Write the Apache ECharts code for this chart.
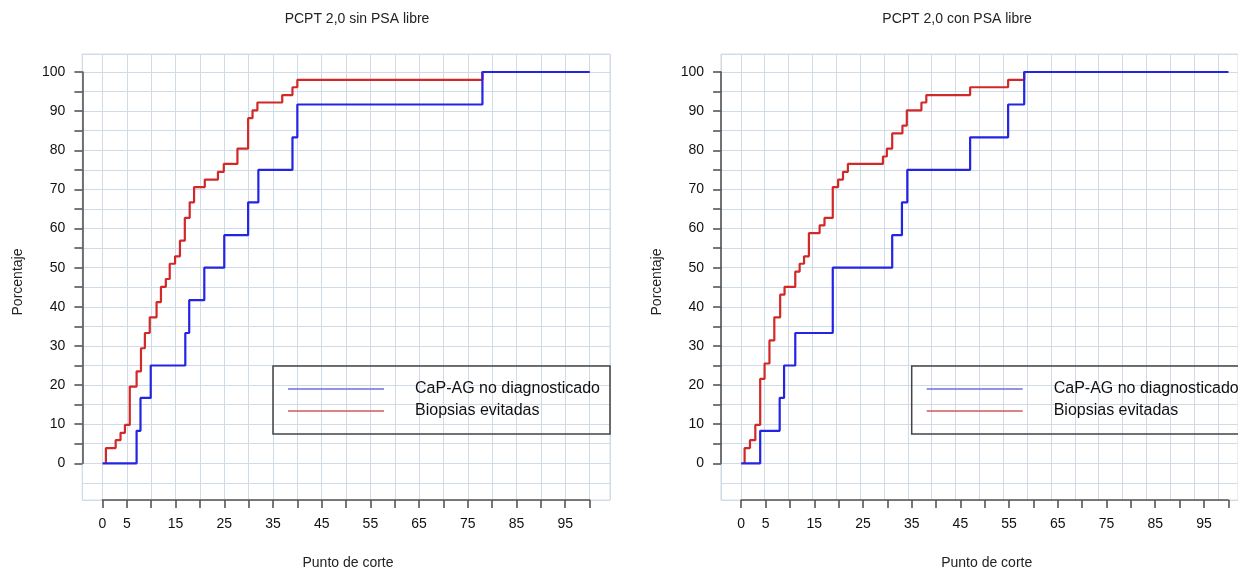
<!DOCTYPE html>
<html><head><meta charset="utf-8">
<script src="https://cdn.jsdelivr.net/npm/echarts@6/dist/echarts.min.js"></script>
<style>html,body{margin:0;padding:0;background:#fff}#c{width:1238px;height:570px}</style>
</head><body><div id="c"></div>
<script>
// ---------- data ----------
const chartTitles = ['PCPT 2,0 sin PSA libre', 'PCPT 2,0 con PSA libre'];
const seriesNames = ['CaP-AG no diagnosticado', 'Biopsias evitadas'];
const xAxisTitle = 'Punto de corte';
const yAxisTitle = 'Porcentaje';
const xTickLabels = [0, 5, 15, 25, 35, 45, 55, 65, 75, 85, 95];
const yTickLabels = [0, 10, 20, 30, 40, 50, 60, 70, 80, 90, 100];

// left: sin PSA libre  [punto de corte, porcentaje]
const leftMissed = [[0,0],[7.0,8.3],[7.8,16.7],[9.9,25],[17.0,33.3],[17.8,41.7],[20.9,50],[25.0,58.3],[29.9,66.7],[32.0,75],[39.0,83.3],[40.0,91.7],[78.0,100],[100,100]];
const leftAvoided = [[0.7,0],[0.7,3.9],[2.7,5.9],[3.7,7.8],[4.6,9.8],[5.6,19.6],[7.0,23.5],[7.9,29.4],[8.7,33.3],[9.7,37.3],[11.1,41.2],[12.0,45.1],[13.0,47.1],[13.8,51.0],[14.9,52.9],[15.9,56.9],[16.9,62.7],[17.9,66.7],[18.8,70.6],[21.0,72.5],[23.7,74.5],[24.9,76.5],[27.7,80.4],[29.9,88.2],[30.8,90.2],[31.8,92.2],[36.9,94.1],[39.0,96.1],[40.0,98.0],[78.0,100],[100,100]];
// right: con PSA libre
const rightMissed = [[0,0],[3.9,8.3],[7.9,16.7],[8.8,25],[11.1,33.3],[18.8,50],[31.0,58.3],[33.0,66.7],[34.1,75],[47.0,83.3],[54.8,91.7],[58.1,100],[100,100]];
const rightAvoided = [[0.7,0],[0.7,3.9],[1.8,5.9],[2.9,9.8],[3.9,21.6],[4.8,25.5],[5.8,31.4],[6.8,37.3],[8.0,43.1],[8.9,45.1],[11.1,49.0],[12.0,51.0],[12.9,52.9],[13.9,58.8],[16.1,60.8],[17.1,62.7],[18.8,70.6],[19.9,72.5],[20.9,74.5],[21.9,76.5],[29.1,78.4],[29.9,80.4],[31.0,84.3],[33.1,86.3],[34.0,90.2],[37.0,92.2],[38.0,94.1],[47.0,96.1],[54.8,98.0],[58.1,100],[100,100]];

// ---------- layout ----------
const FONT = '"Liberation Sans", Arial, sans-serif';
const SX = 4.871, SY = 3.913;      // px per unit
const X0L = 102.5, Y0 = 463.3;     // pixel of (0,0) in left chart
const DX = 638.7;                  // shift of right chart
const BG = {l: -20.3, r: 507.5, t: 54, b: 500}; // background box relative to X0 (l,r) / absolute (t,b)
const AX = '#555', GRIDC = '#cfdbe6';
const C_BLUE = '#2424e4', C_RED = '#d22828';
const L_BLUE = '#6f6fdc', L_RED = '#d25a60';

const grids = [], xAxes = [], yAxes = [], series = [], legends = [], graphics = [];
const datasets = [[leftMissed, leftAvoided], [rightMissed, rightAvoided]];

datasets.forEach((d, i) => {
  const X0 = X0L + i * DX;
  const bl = X0 + BG.l, br = X0 + BG.r;
  // background grid
  grids.push({left: bl, top: BG.t, width: br - bl, height: BG.b - BG.t, show: true, borderColor: '#d6dee6', borderWidth: 1, backgroundColor: 'transparent'});
  xAxes.push({gridIndex: 2*i, type: 'value', min: BG.l / SX, max: BG.r / SX, minInterval: 5, maxInterval: 5, splitNumber: 20,
    axisLine: {show: false}, axisTick: {show: false}, axisLabel: {show: false}, splitLine: {show: true, lineStyle: {color: GRIDC, width: 1}}});
  yAxes.push({gridIndex: 2*i, type: 'value', min: -(BG.b - Y0) / SY, max: (Y0 - BG.t) / SY, minInterval: 5, maxInterval: 5, splitNumber: 22,
    axisLine: {show: false}, axisTick: {show: false}, axisLabel: {show: false}, splitLine: {show: true, lineStyle: {color: GRIDC, width: 1}}});
  // data grid
  grids.push({left: X0, top: Y0 - 100 * SY, width: 100 * SX, height: 100 * SY});
  xAxes.push({gridIndex: 2*i+1, type: 'value', min: 0, max: 100, interval: 5, position: 'bottom', offset: BG.b - Y0,
    axisLine: {show: true, onZero: false, lineStyle: {color: AX, width: 1.6}},
    axisTick: {show: true, length: 8, lineStyle: {color: AX, width: 1.6}},
    axisLabel: {margin: 17, fontSize: 14, fontFamily: FONT, color: '#111', formatter: v => xTickLabels.includes(v) ? String(v) : ''},
    splitLine: {show: false}});
  yAxes.push({gridIndex: 2*i+1, type: 'value', min: 0, max: 100, interval: 5, position: 'left', offset: -BG.l - 0.2,
    axisLine: {show: true, onZero: false, lineStyle: {color: AX, width: 1.6}},
    axisTick: {show: true, length: 8, lineStyle: {color: AX, width: 1.6}},
    axisLabel: {margin: 17, fontSize: 14, fontFamily: FONT, color: '#111', formatter: v => yTickLabels.includes(v) ? String(v) : ''},
    splitLine: {show: false}});
  series.push({name: seriesNames[1], type: 'line', step: 'end', xAxisIndex: 2*i+1, yAxisIndex: 2*i+1, data: d[1], symbol: 'none', clip: false,
    lineStyle: {color: C_RED, width: 2.2}, itemStyle: {color: C_RED}, z: 2});
  series.push({name: seriesNames[0], type: 'line', step: 'end', xAxisIndex: 2*i+1, yAxisIndex: 2*i+1, data: d[0], symbol: 'none', clip: false,
    lineStyle: {color: C_BLUE, width: 2.2}, itemStyle: {color: C_BLUE}, z: 3});
  legends.push({left: 273 + i * DX, top: 366, orient: 'vertical', padding: [12, 10, 12, 15], itemGap: 0, itemWidth: 96, itemHeight: 1.5, icon: 'rect',
    borderColor: '#444', borderWidth: 1.5, backgroundColor: 'transparent', selectedMode: false,
    textStyle: {fontSize: 16, fontFamily: FONT, color: '#111', padding: [0, 0, 0, 26], lineHeight: 22},
    data: [{name: seriesNames[0], itemStyle: {color: L_BLUE}}, {name: seriesNames[1], itemStyle: {color: L_RED}}]});
  graphics.push({type: 'text', x: 357 + i * 600, y: 19, style: {text: chartTitles[i], font: '14px ' + FONT, fill: '#222', align: 'center', verticalAlign: 'middle'}});
  graphics.push({type: 'text', x: X0 + 245.5, y: 563, style: {text: xAxisTitle, font: '14px ' + FONT, fill: '#222', align: 'center', verticalAlign: 'middle'}});
  graphics.push({type: 'text', x: X0 - 84.5, y: 282, rotation: Math.PI / 2, style: {text: yAxisTitle, font: '14px ' + FONT, fill: '#222', align: 'center', verticalAlign: 'middle'}});
});

const chart = echarts.init(document.getElementById('c'), null, {renderer: 'canvas'});
chart.setOption({
  animation: false,
  backgroundColor: '#fff',
  grid: grids, xAxis: xAxes, yAxis: yAxes, series: series, legend: legends, graphic: graphics
});
</script></body></html>
